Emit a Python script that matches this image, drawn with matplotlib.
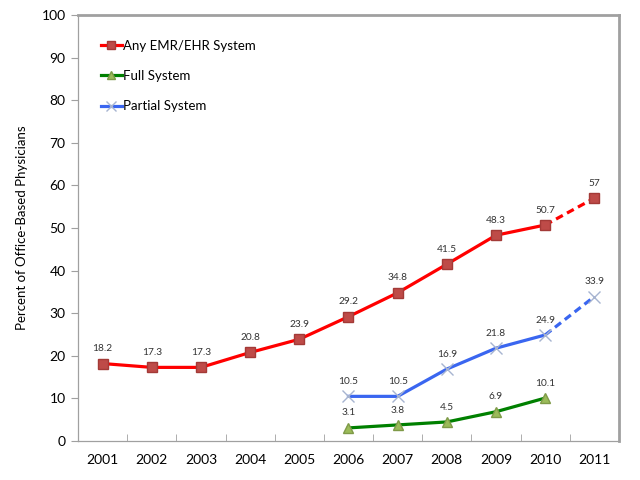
import matplotlib
matplotlib.use("Agg")
import matplotlib.pyplot as plt
import numpy as np

plt.rcParams['font.family'] = ['Lato', 'DejaVu Sans']

years = ['2001', '2002', '2003', '2004', '2005', '2006',
         '2007', '2008', '2009', '2010', '2011']
any_emr = [18.2, 17.3, 17.3, 20.8, 23.9, 29.2, 34.8, 41.5, 48.3, 50.7, 57]
full_sys = [None, None, None, None, None, 3.1, 3.8, 4.5, 6.9, 10.1, None]
partial_sys = [None, None, None, None, None, 10.5, 10.5, 16.9, 21.8, 24.9, 33.9]

fig = plt.figure(figsize=(6.4, 4.8), dpi=100)
ax = fig.add_axes([0.122, 0.081, 0.845, 0.888])

x = np.arange(len(years))

series = [
    ('Any EMR/EHR System', any_emr, '#FF0000', 's', '#BE4B48', '#A33A37'),
    ('Full System', full_sys, '#008000', '^', '#9BBB59', '#7F9A48'),
    ('Partial System', partial_sys, '#3A66F0', 'x', '#A7B4D0', '#A7B4D0'),
]

handles = []
for name, vals, lc, mk, mfc, mec in series:
    v = np.array([np.nan if a is None else a for a in vals], dtype=float)
    solid = v.copy()
    solid[10] = np.nan  # 2011 is a projection
    ms = 6.5 if mk != 'x' else 8
    h, = ax.plot(x, solid, color=lc, lw=2.3, marker=mk, ms=ms,
                 mfc=mfc, mec=mec, mew=1, zorder=3, label=name)
    handles.append(h)
    if not np.isnan(v[10]):
        ax.plot(x[9:11], v[9:11], color=lc, lw=2.3, ls=(0, (2.4, 1.5)), zorder=2)
        ax.plot(x[10], v[10], marker=mk, ms=ms, mfc=mfc, mec=mec, ls='none', zorder=3)
    for xi, yi in zip(x, v):
        if not np.isnan(yi):
            ax.annotate('%g' % yi, (xi, yi), xytext=(0, 7.5), textcoords='offset points',
                        ha='center', va='bottom', fontsize=7.3, color='#333333')

ax.set_xlim(-0.5, 10.5)
ax.set_ylim(0, 100)
ax.set_yticks(np.arange(0, 101, 10))
ax.set_xticks(x)
ax.set_xticklabels(years)
ax.set_xticks(np.arange(0.5, 10, 1), minor=True)
ax.tick_params(axis='x', which='major', length=0, pad=9, labelsize=10)
ax.tick_params(axis='x', which='minor', length=5, color='#A0A0A0', direction='in')
ax.tick_params(axis='y', length=5, color='#A0A0A0', labelsize=10, pad=4)
ax.set_ylabel('Percent of Office-Based Physicians', fontsize=9.5, labelpad=10)

for s in ['left', 'bottom']:
    ax.spines[s].set_color('#A0A0A0')
    ax.spines[s].set_linewidth(0.9)
for s in ['top', 'right']:
    ax.spines[s].set_color('#A0A0A0')
    ax.spines[s].set_linewidth(2)

ax.legend(handles=handles, loc='upper left', bbox_to_anchor=(0.02, 0.97),
          frameon=False, fontsize=9.5, labelspacing=1.4, handlelength=1.6,
          handletextpad=0.1, markerscale=0.85)

fig.savefig('out.png', dpi=100)
